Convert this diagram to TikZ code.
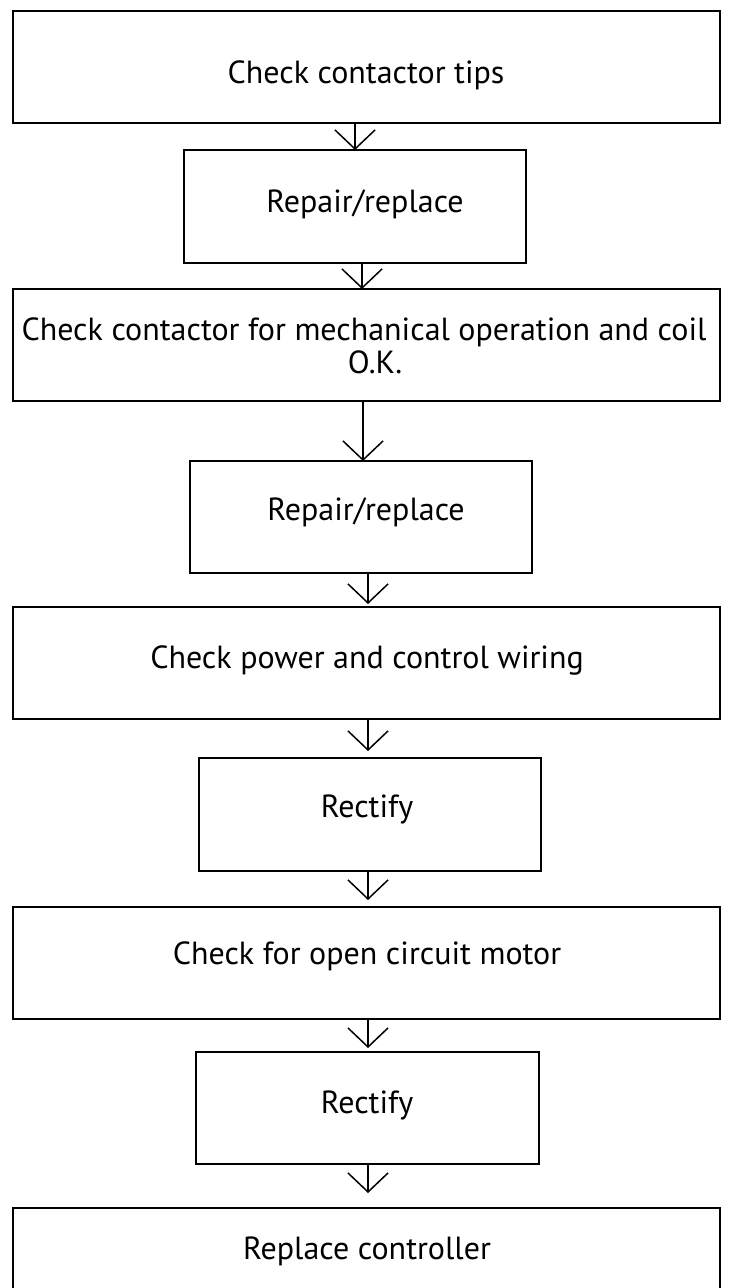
\documentclass[tikz,border=0pt]{standalone}
\usepackage{fontspec}
\setmainfont{PT Sans}
\usetikzlibrary{arrows.meta}
\begin{document}
\begin{tikzpicture}[x=1pt,y=-1pt,
  box/.style={draw, line width=2pt, inner sep=0pt, outer sep=0pt, rectangle},
  lbl/.style={inner sep=0pt, outer sep=0pt, anchor=base, font=\fontsize{32}{33}\selectfont},
  arr/.style={line width=1.5pt, -{Straight Barb[length=19pt,width=40pt,line width=1.5pt]}}]
\useasboundingbox (0,0) rectangle (730,1288);
\fill[white] (0,0) rectangle (730,1288);
% boxes
\node[box, minimum width=707pt, minimum height=112pt] (b1) at (366.5,67) {};
\node[box, minimum width=342pt, minimum height=113pt] (b2) at (355,206.5) {};
\node[box, minimum width=707pt, minimum height=112pt] (b3) at (366.5,345) {};
\node[box, minimum width=342pt, minimum height=112pt] (b4) at (361,517) {};
\node[box, minimum width=707pt, minimum height=112pt] (b5) at (366.5,663) {};
\node[box, minimum width=342pt, minimum height=113pt] (b6) at (370,814.5) {};
\node[box, minimum width=707pt, minimum height=112pt] (b7) at (366.5,963) {};
\node[box, minimum width=343pt, minimum height=112pt] (b8) at (367.5,1108) {};
\node[box, minimum width=707pt, minimum height=92pt] (b9) at (366.5,1254) {};
% labels
\node[lbl] (t1) at (366,83) {Check contactor tips};
\node[lbl] (t2) at (365,212) {Repair/replace};
\node[lbl] (t3) at (364,340) {Check contactor for mechanical operation and coil};
\node[lbl] (t3b) at (375,373) {O.K.};
\node[lbl] (t4) at (366,520) {Repair/replace};
\node[lbl] (t5) at (367,668) {Check power and control wiring};
\node[lbl] (t6) at (367,817) {Rectify};
\node[lbl] (t7) at (367,964) {Check for open circuit motor};
\node[lbl] (t8) at (367,1113) {Rectify};
\node[lbl] (t9) at (367,1259) {Replace controller};
% arrow columns
\coordinate (x1) at (355,0);
\coordinate (x2) at (362,0);
\coordinate (x3) at (363,0);
\coordinate (x4) at (368,0);
\draw[arr] (b1.south -| x1) -- (b2.north -| x1);
\draw[arr] (b2.south -| x2) -- (b3.north -| x2);
\draw[arr] (b3.south -| x3) -- (b4.north -| x3);
\draw[arr, shorten >=3pt] (b4.south -| x4) -- (b5.north -| x4);
\draw[arr, shorten >=7pt] (b5.south -| x4) -- (b6.north -| x4);
\draw[arr, shorten >=7pt] (b6.south -| x4) -- (b7.north -| x4);
\draw[arr, shorten >=4pt] (b7.south -| x4) -- (b8.north -| x4);
\draw[arr, shorten >=15pt] (b8.south -| x4) -- (b9.north -| x4);
\end{tikzpicture}
\end{document}
